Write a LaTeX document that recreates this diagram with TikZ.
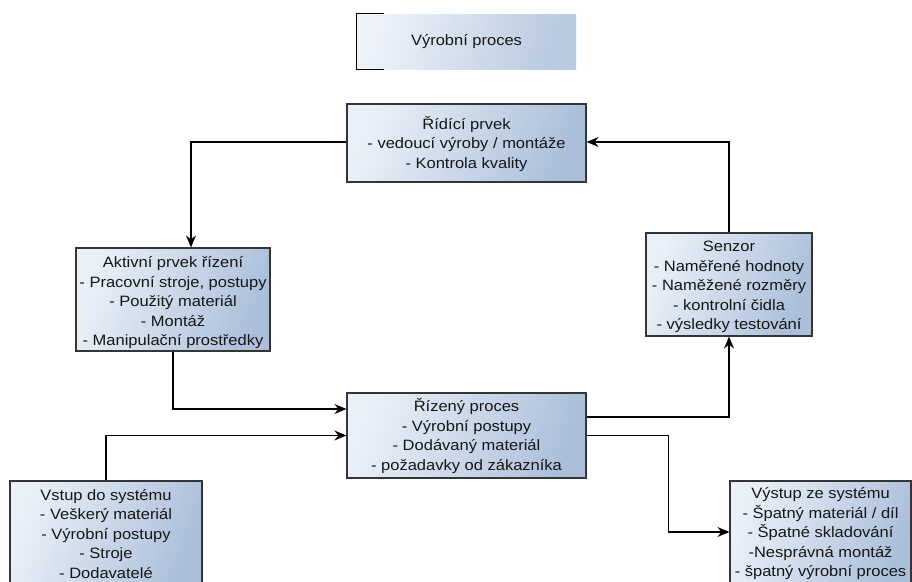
\documentclass[tikz,border=0pt]{standalone}
\usepackage{fontspec}
\setmainfont[FakeStretch=1.1]{Liberation Sans}
\usetikzlibrary{arrows.meta}

\definecolor{boxlight}{HTML}{EAF0F8}
\definecolor{boxdark}{HTML}{ABBFDA}
\definecolor{boxedge}{HTML}{353535}
\definecolor{textcol}{HTML}{161616}

\tikzset{
  box/.style={draw=boxedge, line width=1.2pt, inner sep=0pt,
    left color=boxlight, right color=boxdark, shading angle=70,
    align=center, text=textcol,
    font=\fontsize{15}{19.5}\selectfont},
  legendbox/.style={inner sep=0pt, left color=boxlight!80!white,
    right color=boxdark!85!white, shading angle=75,
    text=textcol, font=\fontsize{15}{19.5}\selectfont},
  conn/.style={line width=1.3pt, draw=black,
    -{Stealth[length=12pt, width=10pt, inset=4pt]}},
}

\begin{document}
\begin{tikzpicture}[x=1pt, y=-1pt]
  \fill[white] (0,0) rectangle (912,581);
  \useasboundingbox (0,0) rectangle (912,581);

  % legend: shaded field with a bracket on its left side
  \node[legendbox, minimum width=219pt, minimum height=55pt] (legend) at (466.5,41.5) {Výrobní proces};
  \draw[line width=1.3pt, black] ([xshift=27pt]legend.north west) -- (legend.north west)
    -- (legend.south west) -- ([xshift=27pt]legend.south west);

  % blocks of the control loop
  \node[box, minimum width=239pt, minimum height=78pt] (ridici) at (466.5,143)
    {\rule{0pt}{15pt}Řídící prvek\\- vedoucí výroby / montáže\\- Kontrola kvality};
  \node[box, minimum width=194pt, minimum height=103pt] (aktivni) at (173,299.5)
    {\rule{0pt}{18pt}Aktivní prvek řízení\\- Pracovní stroje, postupy\\- Použitý materiál\\- Montáž\\- Manipulační prostředky};
  \node[box, minimum width=166pt, minimum height=103pt] (senzor) at (729,284.5)
    {\rule{0pt}{16pt}Senzor\\- Naměřené hodnoty\\- Naměžené rozměry\\- kontrolní čidla\\- výsledky testování};
  \node[box, minimum width=239pt, minimum height=85pt] (rizeny) at (466.5,435.5)
    {\rule{0pt}{14pt}Řízený proces\\- Výrobní postupy\\- Dodávaný materiál\\- požadavky od zákazníka};
  \node[box, minimum width=192pt, minimum height=106pt] (vstup) at (106,534)
    {Vstup do systému\\- Veškerý materiál\\- Výrobní postupy\\- Stroje\\- Dodavatelé};
  \node[box, minimum width=181pt, minimum height=106pt] (vystup) at (820.5,534)
    {Výstup ze systému\\- Špatný materiál / díl\\- Špatné skladování\\-Nesprávná montáž\\- špatný výrobní proces};

  % connectors
  \draw[conn] ([yshift=1pt]ridici.west) -| ([xshift=18pt]aktivni.north);
  \draw[conn] (aktivni.south) |- ([yshift=26.5pt]rizeny.west);
  \draw[conn] (vstup.north) |- (rizeny.west);
  \draw[conn] ([yshift=18.5pt]rizeny.east) -| (senzor.south);
  \draw[conn] (senzor.north) |- ([yshift=1pt]ridici.east);
  \draw[conn] (rizeny.east) -- ++(82,0) |- ([yshift=2pt]vystup.west);
\end{tikzpicture}
\end{document}
